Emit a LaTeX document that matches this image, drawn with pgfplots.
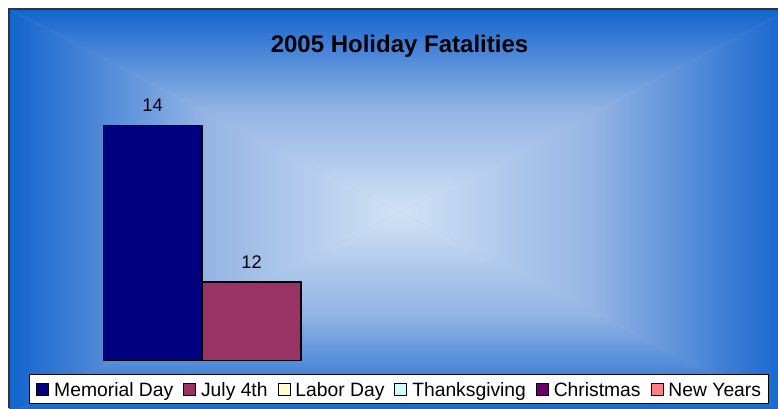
\documentclass[border=0pt]{standalone}
\usepackage{fontspec}
\setmainfont{Liberation Sans}
\usepackage{pgfplots}
\pgfplotsset{compat=1.18}
\definecolor{edgeblue}{RGB}{18,100,206}
\definecolor{midblue}{RGB}{148,180,228}
\definecolor{centerblue}{RGB}{208,226,245}
\definecolor{cMem}{HTML}{000080}
\definecolor{cJul}{HTML}{993366}
\definecolor{cLab}{HTML}{FFFFCC}
\definecolor{cTha}{HTML}{CCFFFF}
\definecolor{cChr}{HTML}{660066}
\definecolor{cNew}{HTML}{FF8080}
\pgfplotsset{sq legend/.style={legend image code/.code={\draw[##1, line width=0.8bp, draw=black] (0bp,-7bp) rectangle (12bp,5bp);}}}
\begin{document}
\begin{tikzpicture}[x=1bp,y=1bp]
\path[use as bounding box, fill=white] (0,0) rectangle (778,408);
\begin{scope}
\clip (9,0) rectangle (778,399);
\fill[midblue] (9,-7) rectangle (791,399);
\shade[top color=edgeblue,bottom color=centerblue,middle color=midblue] (9,399) -- (791,399) -- (400,196) -- cycle;
\shade[top color=centerblue,bottom color=edgeblue,middle color=midblue] (9,-7) -- (791,-7) -- (400,196) -- cycle;
\shade[left color=edgeblue,right color=centerblue,middle color=midblue] (9,399) -- (9,-7) -- (400,196) -- cycle;
\shade[left color=centerblue,right color=edgeblue,middle color=midblue] (791,399) -- (791,-7) -- (400,196) -- cycle;
\end{scope}
\draw[line width=1.2bp, black!80] (9,0) -- (9,399) -- (778,399);
\node[font=\fontsize{24bp}{28bp}\selectfont\bfseries, anchor=base, inner sep=0pt] at (399.5,356) {2005 Holiday Fatalities};
\begin{axis}[
  at={(29bp,47.5bp)}, anchor=south west,
  width=742bp, height=274.5bp, scale only axis,
  xmin=-0.25, xmax=7.25, ymin=0, ymax=3.5,
  hide axis,
  point meta=explicit,
  /pgf/number format/assume math mode=true,
  nodes near coords,
  every node near coord/.append style={font=\fontsize{18.3bp}{20bp}\selectfont, anchor=base, yshift=13.5bp, text=black},
  legend columns=-1,
  legend style={at={(0.4983,-0.0492)}, anchor=north, draw=black, line width=0.8bp, fill=white,
    font=\fontsize{19.3bp}{22bp}\selectfont, inner xsep=7.5bp, inner ysep=2bp,
    nodes={inner sep=0bp, text height=20.5bp, text depth=4.3bp},
    /tikz/every even column/.append style={column sep=10bp},
    /tikz/every odd column/.append style={column sep=5bp}},
]
\addplot[ybar, bar width=1, bar shift=0pt, fill=cMem, draw=black, line width=1.3bp, sq legend]
  table[x=x, y expr=\thisrow{v}-11, meta=v] {
x v
1 14
};
\addplot[ybar, bar width=1, bar shift=0pt, fill=cJul, draw=black, line width=1.3bp, sq legend]
  table[x=x, y expr=\thisrow{v}-11, meta=v] {
x v
2 12
};
\addlegendimage{fill=cLab, sq legend}
\addlegendimage{fill=cTha, sq legend}
\addlegendimage{fill=cChr, sq legend}
\addlegendimage{fill=cNew, sq legend}
\legend{Memorial Day, July 4th, Labor Day, Thanksgiving, Christmas, New Years}
\end{axis}
\end{tikzpicture}
\end{document}
